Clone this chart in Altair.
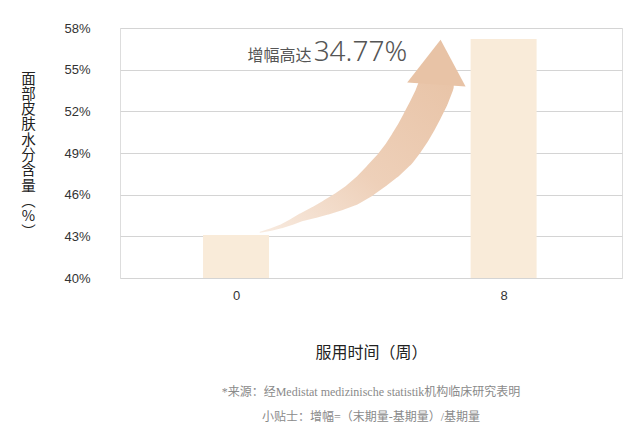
import altair as alt
import pandas as pd

# bars: skin moisture (%) at week 0 and week 8
weeks = [0, 8]
moisture = [43.1, 57.2]
y_ticks = [40, 43, 46, 49, 52, 55, 58]

# curved arrow: centreline (week, %) and width in px
arrow_week = [0.72, 1.05, 1.37, 1.66, 1.96, 2.34, 2.72, 3.10, 3.48, 3.88,
              4.24, 4.58, 4.89, 5.10, 5.30, 5.48, 5.65, 5.84, 5.99]
arrow_pct = [43.30, 43.49, 43.73, 44.03, 44.38, 44.72, 45.10, 45.52, 46.00, 46.68,
             47.44, 48.19, 49.02, 49.74, 50.50, 51.27, 52.05, 52.98, 53.92]
arrow_width = [1, 2.5, 4, 6, 8, 11.5, 15, 18.5, 22, 25,
               28, 30.5, 33, 34, 34.5, 35, 35, 35, 35]
head_week = [5.99]
head_pct = [53.94]

# annotation
note_week = [2.29]
note_pct = [55.6]
note_lead = ["增幅高达"]
note_value = ["34.77%"]

y_title = list("面部皮肤水分含量") + ["︵", "%", "︶"]
x_title = "服用时间（周）"
footnotes = [
    "*来源：经Medistat medizinische statistik机构临床研究表明",
    "小贴士：增幅=（末期量-基期量）/基期量",
]

bars_df = pd.DataFrame({"week": weeks, "moisture": moisture})
arrow_df = pd.DataFrame({
    "i": range(len(arrow_week)),
    "week": arrow_week,
    "pct": arrow_pct,
    "w": arrow_width,
})
head_df = pd.DataFrame({"week": head_week, "pct": head_pct})
note_df = pd.DataFrame({
    "week": note_week, "pct": note_pct,
    "lead": note_lead, "value": note_value,
})

cjk = "Noto Sans CJK SC"

x_scale = alt.Scale(domain=[-3.32, 11.39], nice=False, zero=False)
y_scale = alt.Scale(domain=[40, 58], nice=False, zero=False)

bars = alt.Chart(bars_df).mark_bar(width=66, color="#f9ebd9").encode(
    x=alt.X("week:Q", scale=x_scale,
            axis=alt.Axis(values=weeks, grid=False, domain=False, ticks=False,
                          labelFontSize=13, labelColor="#333", labelPadding=11,
                          labelFont="Liberation Sans",
                          title=x_title, titleFont=cjk, titleFontSize=16,
                          titleFontWeight="normal", titleColor="#222",
                          titleY=74, titleBaseline="middle")),
    y=alt.Y("moisture:Q", scale=y_scale,
            axis=alt.Axis(values=y_ticks, labelExpr="datum.value + '%'",
                          domain=False, ticks=False, gridColor="#d4d4d4",
                          labelFontSize=13, labelColor="#333", labelPadding=30,
                          labelFont="Liberation Sans",
                          title=y_title, titleAngle=0, titleFont=cjk,
                          titleFontSize=14.5, titleFontWeight="normal",
                          titleColor="#222", titleLineHeight=15.3,
                          titleX=-92, titleY=44, titleAlign="center",
                          titleBaseline="top")),
    y2=alt.datum(40),
)

shaft = alt.Chart(arrow_df).mark_trail(
    color=alt.Gradient(
        gradient="linear",
        stops=[alt.GradientStop(color="#f8ebe0", offset=0),
               alt.GradientStop(color="#eed0b9", offset=0.45),
               alt.GradientStop(color="#e8c3a6", offset=1)],
        x1=0, y1=1, x2=1, y2=0,
    )
).encode(
    x=alt.X("week:Q", scale=x_scale),
    y=alt.Y("pct:Q", scale=y_scale),
    size=alt.Size("w:Q", scale=None, legend=None),
    order=alt.Order("i:Q"),
)

head = alt.Chart(head_df).mark_point(
    shape="M0.14,-1.49L0.973,0.067L-0.973,-0.067Z", size=3600, filled=True,
    color="#e8c3a6", opacity=1,
).encode(
    x=alt.X("week:Q", scale=x_scale),
    y=alt.Y("pct:Q", scale=y_scale),
)

lead = alt.Chart(note_df).mark_text(
    align="right", baseline="alphabetic", font=cjk, fontSize=16,
    color="#555", dx=-1,
).encode(x=alt.X("week:Q", scale=x_scale), y=alt.Y("pct:Q", scale=y_scale),
         text="lead:N")

value = alt.Chart(note_df).mark_text(
    align="left", baseline="alphabetic", font="Noto Sans", fontSize=28,
    fontWeight=300, color="#555", dx=1,
).encode(x=alt.X("week:Q", scale=x_scale), y=alt.Y("pct:Q", scale=y_scale),
         text="value:N")

chart = alt.layer(bars, shaft, head, lead, value).properties(
    width=502,
    height=250,
    autosize=alt.AutoSizeParams(type="none"),
    padding={"left": 112, "top": 20, "right": 10, "bottom": 150},
    title=alt.TitleParams(
        text=footnotes, orient="bottom", anchor="middle",
        font="Liberation Serif, Noto Sans CJK SC", fontSize=12,
        fontWeight="normal", color="#8a8a8a", lineHeight=25, offset=27,
    ),
).configure_view(
    stroke="#d4d4d4"
).configure(background="white")

chart.save("out.html", embed_options={"renderer": "svg", "actions": False})
